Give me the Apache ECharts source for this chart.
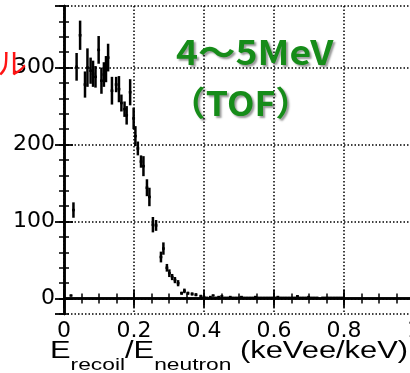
<!DOCTYPE html>
<html>
<head>
<meta charset="utf-8">
<script src="https://cdn.jsdelivr.net/npm/echarts@6/dist/echarts.min.js"></script>
<style>
  html, body { margin: 0; padding: 0; background: #fff; }
  #chart { width: 410px; height: 373px; }
</style>
</head>
<body>
<div id="chart"></div>
<script>
// Recoil energy ratio E_recoil / E_neutron (bin centres)
const ratio = [
  0.020, 0.027, 0.036, 0.046, 0.060, 0.067, 0.076, 0.083, 0.090, 0.099,
  0.107, 0.114, 0.120, 0.126, 0.137, 0.149, 0.157, 0.164, 0.173, 0.179,
  0.189, 0.199, 0.204, 0.211, 0.220, 0.227, 0.237, 0.244, 0.254, 0.263,
  0.277, 0.284, 0.294, 0.301, 0.309, 0.317, 0.326, 0.336, 0.344, 0.354,
  0.366, 0.377, 0.391, 0.400, 0.408, 0.418, 0.426, 0.434, 0.442, 0.451,
  0.459, 0.467, 0.475, 0.483, 0.491, 0.499, 0.507, 0.515, 0.523, 0.531,
  0.539, 0.547, 0.555, 0.563, 0.571, 0.579, 0.587, 0.595, 0.603, 0.611,
  0.619, 0.627, 0.635, 0.643, 0.651, 0.659, 0.667, 0.675, 0.683, 0.691,
  0.699, 0.707, 0.715, 0.723, 0.739, 0.747, 0.755, 0.763, 0.771, 0.779,
  0.787, 0.795
];
// Event counts per bin
const counts = [
  4, 115, 301, 342, 278, 300, 296, 292, 288, 323,
  283, 291, 298, 313, 270, 278, 272, 254, 246, 238,
  268, 234, 211, 195, 178, 172, 144, 132, 96, 95,
  54, 65, 40, 33, 28, 24, 20, 7, 10, 7,
  6, 5, 3, 2, 1, 2, 4, 1, 2, 3,
  1, 1, 2, 1, 1, 1, 2, 1, 1, 1,
  1, 2, 1, 1, 1, 1, 1, 1, 1, 2,
  1, 1, 1, 1, 1, 1, 3, 1, 1, 1,
  2, 1, 1, 1, 1, 1, 1, 1, 1, 1,
  1, 1
];
// Statistical error on each count
const errors = [
  1, 10, 18, 19, 17, 25, 17, 17, 14, 18,
  17, 16, 17, 18, 18, 10, 17, 11, 10, 12,
  17, 14, 13, 9, 8, 13, 11, 12, 10, 7,
  7, 8, 5, 5, 4, 4, 4, 2, 3, 2,
  2, 2, 2, 1, 1, 1, 1, 1, 1, 1,
  1, 1, 1, 1, 1, 1, 1, 1, 1, 1,
  1, 1, 1, 1, 1, 1, 1, 1, 1, 1,
  1, 1, 1, 1, 1, 1, 1, 1, 1, 1,
  1, 1, 1, 1, 1, 1, 1, 1, 1, 1,
  1, 1
];
const halfBin = 0.004;

const xRange = [0, 1];
const yRange = [-20, 380];

const points = ratio.map((r, i) => [r, counts[i], errors[i]]);

const labelFont = 'DejaVu Sans';
const gridLine = { show: true, lineStyle: { color: '#000', width: 1.5, type: [1.5, 2] } };
const frame = { show: true, lineStyle: { color: '#000', width: 2.5 } };
const noLine = { show: false };

function majorTick() {
  return { show: true, inside: true, length: 9, lineStyle: { color: '#000', width: 1.8 } };
}
function minorTickDef() {
  return { show: true, inside: true, length: 5, lineStyle: { color: '#000', width: 1.5 } };
}

function xMajorDef(pos, withLabels) {
  return {
    type: 'value', position: pos, min: xRange[0], max: xRange[1], interval: 0.2,
    axisLine: frame,
    axisTick: majorTick(),
    splitLine: withLabels ? gridLine : noLine,
    axisLabel: withLabels
      ? { show: true, color: '#000', fontFamily: labelFont, fontSize: 22, margin: 6 }
      : { show: false }
  };
}
function xMinorDef(pos) {
  return {
    type: 'value', position: pos, min: xRange[0], max: xRange[1], interval: 0.05,
    axisLine: noLine, axisTick: minorTickDef(), splitLine: noLine, axisLabel: { show: false }
  };
}
function yMajorDef(pos, withLabels) {
  return {
    type: 'value', position: pos, min: yRange[0], max: yRange[1], splitNumber: 4,
    axisLine: frame,
    axisTick: majorTick(),
    splitLine: withLabels ? gridLine : noLine,
    axisLabel: withLabels
      ? { show: true, color: '#000', fontFamily: labelFont, fontSize: 22, margin: 9,
          showMinLabel: false, showMaxLabel: false }
      : { show: false }
  };
}
function yMinorDef(pos) {
  return {
    type: 'value', position: pos, min: yRange[0], max: yRange[1], interval: 20,
    axisLine: noLine, axisTick: minorTickDef(), splitLine: noLine, axisLabel: { show: false }
  };
}

// Axis title built from pieces so the subscripts sit below the baseline
const titleParts = [
  { t: 'E', sub: false },
  { t: 'recoil', sub: true },
  { t: '/E', sub: false },
  { t: 'neutron', sub: true },
  { t: ' (keVee/keV)', sub: false }
];
const mainFont = '23px "Liberation Sans"';
const subFont = '17px "Liberation Sans"';
const measureCtx = document.createElement('canvas').getContext('2d');
let cursor = 0;
const titleChildren = titleParts.map(p => {
  measureCtx.font = p.sub ? subFont : mainFont;
  const w = measureCtx.measureText(p.t).width;
  const el = {
    type: 'text', x: cursor, y: p.sub ? 11 : 0,
    style: { text: p.t, font: p.sub ? subFont : mainFont, fill: '#000',
             textAlign: 'left', textVerticalAlign: 'bottom' }
  };
  cursor += w;
  return el;
});
const titleScale = 358 / cursor;

const greenStyle = {
  fill: '#168c19', font: 'bold 34px "Noto Sans CJK JP"',
  textAlign: 'left', textVerticalAlign: 'middle',
  textShadowColor: 'rgba(0,0,0,0.4)', textShadowBlur: 2,
  textShadowOffsetX: 2, textShadowOffsetY: 2
};

const chart = echarts.init(document.getElementById('chart'), null, { renderer: 'canvas' });
chart.setOption({
  animation: false,
  backgroundColor: '#fff',
  grid: { left: 64, right: -4, top: 6, bottom: 59, containLabel: false, outerBoundsMode: 'none' },
  xAxis: [xMajorDef('bottom', true), xMinorDef('bottom'), xMajorDef('top', false), xMinorDef('top')],
  yAxis: [yMajorDef('left', true), yMinorDef('left'), yMajorDef('right', false), yMinorDef('right')],
  series: [{
    type: 'custom',
    xAxisIndex: 0, yAxisIndex: 0,
    clip: true,
    data: points,
    renderItem: function (params, api) {
      const x = api.value(0), y = api.value(1), e = api.value(2);
      const lo = api.coord([x, y - e]);
      const hi = api.coord([x, y + e]);
      const l = api.coord([x - halfBin, y]);
      const r = api.coord([x + halfBin, y]);
      const st = { stroke: '#000', lineWidth: 2.5, lineCap: 'butt' };
      return {
        type: 'group',
        children: [
          { type: 'line', shape: { x1: lo[0], y1: lo[1], x2: hi[0], y2: hi[1] }, style: st },
          { type: 'line', shape: { x1: l[0], y1: l[1], x2: r[0], y2: r[1] }, style: st }
        ]
      };
    }
  }],
  graphic: [
    { type: 'text', x: 27, y: 63, z: 100,
      style: { text: 'ル', fill: '#ff1414', font: '30px "Noto Sans CJK JP"',
               textAlign: 'right', textVerticalAlign: 'middle' } },
    { type: 'text', x: 176, y: 52, scaleX: 1.1, z: 100,
      style: Object.assign({ text: '4～5MeV' }, greenStyle) },
    { type: 'text', x: 170, y: 103, scaleX: 1.05, z: 100,
      style: Object.assign({ text: '（TOF）' }, greenStyle) },
    { type: 'group', x: 50, y: 363, scaleX: titleScale, z: 100, children: titleChildren }
  ]
});
</script>
</body>
</html>
